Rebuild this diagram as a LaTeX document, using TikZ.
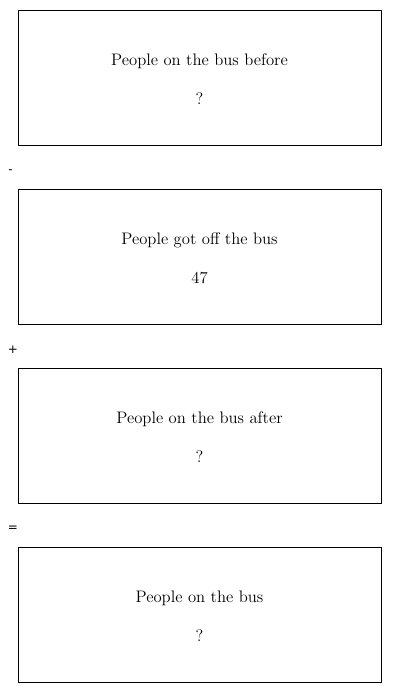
\documentclass[tikz,border=0pt]{standalone}
\usepackage{fontspec}
\newfontfamily\opfont{DejaVu Sans}
\begin{document}
\begin{tikzpicture}[x=0.75pt,y=-0.75pt,
  box/.style={draw,line width=0.8pt,minimum width=363*0.75pt,minimum height=135*0.75pt,anchor=north west,inner sep=0pt},
  lbl/.style={font=\fontsize{12.5}{14}\selectfont,inner sep=0pt,anchor=base},
  op/.style={font=\opfont\fontsize{9}{10}\selectfont,inner sep=0pt}]
\useasboundingbox (0,0) rectangle (400,693);
\node[box] (b1) at (17.8,10) {};
\node[box] (b2) at (17.8,189) {};
\node[box] (b3) at (17.8,368) {};
\node[box] (b4) at (17.8,547) {};
\node[lbl] (t1) at (199.5,65) {People on the bus before};
\node[lbl] (v1) at (199.5,104) {?};
\node[lbl] (t2) at (199.5,244) {People got off the bus};
\node[lbl] (v2) at (199.5,283) {47};
\node[lbl] (t3) at (199.5,423) {People on the bus after};
\node[lbl] (v3) at (199.5,462) {?};
\node[lbl] (t4) at (199.5,602) {People on the bus};
\node[lbl] (v4) at (199.5,641) {?};
\node[op] (o1) at (10.5,172) {-};
\node[op] (o2) at (13,350) {+};
\node[op] (o3) at (13,529) {=};
\end{tikzpicture}
\end{document}
